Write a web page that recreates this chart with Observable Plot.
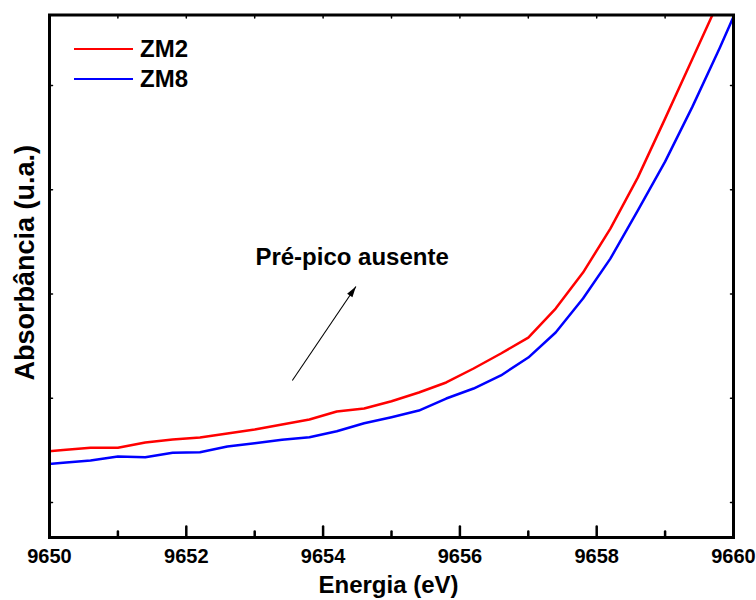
<!DOCTYPE html>
<html><head><meta charset="utf-8">
<script src="https://cdn.jsdelivr.net/npm/d3@7"></script>
<script src="https://cdn.jsdelivr.net/npm/@observablehq/plot@0.6"></script>
<style>
body{margin:0;background:#fff;font-family:"Liberation Sans",Arial,sans-serif;}
#wrap{position:relative;width:756px;height:600px;}
.legend{position:absolute;left:74px;top:34px;}
.item{display:flex;align-items:center;height:30px;font-weight:bold;font-size:24px;color:#000;}
.item .sw{width:59px;height:0;border-top:2.5px solid;margin-right:7px;}
</style></head><body><div id="wrap"></div>
<script>
// Energy (eV)
const energy = [9649.8, 9650.2, 9650.6, 9651.0, 9651.4, 9651.8, 9652.2, 9652.6, 9653.0, 9653.4,
  9653.8, 9654.2, 9654.6, 9655.0, 9655.4, 9655.8, 9656.2, 9656.6, 9657.0, 9657.4,
  9657.8, 9658.2, 9658.6, 9659.0, 9659.4, 9659.8, 9660.2];
// Absorbance (arbitrary units)
const zm2 = [1.479, 1.503, 1.524, 1.524, 1.575, 1.604, 1.623, 1.662, 1.700, 1.748,
  1.796, 1.872, 1.901, 1.971, 2.055, 2.151, 2.285, 2.429, 2.582, 2.860,
  3.205, 3.627, 4.116, 4.682, 5.257, 5.832, 6.410];
const zm8 = [1.360, 1.381, 1.403, 1.441, 1.434, 1.477, 1.482, 1.537, 1.569, 1.601,
  1.626, 1.683, 1.760, 1.818, 1.882, 1.997, 2.093, 2.218, 2.390, 2.630,
  2.956, 3.339, 3.800, 4.269, 4.797, 5.362, 5.957];
const seriesNames = ["ZM2", "ZM8"];
const seriesColors = ["#ff0000", "#0000ff"];
const xMajorTicks = [9650, 9652, 9654, 9656, 9658, 9660];
const xMinorTicks = [9651, 9653, 9655, 9657, 9659];
const xAllTicks = [9650, 9651, 9652, 9653, 9654, 9655, 9656, 9657, 9658, 9659, 9660];
const yTicks = [1, 2, 3, 4, 5];
const xDomain = [9650, 9660];
const yDomain = [0.664, 5.676];
const annotationText = ["Pré-pico ausente"];
const arrowFrom = {x: 9653.55, y: 2.17};
const arrowTo = {x: 9654.48, y: 3.072};
const textAt = {x: 9653.01, y: 3.356};

const rows = [];
[zm2, zm8].forEach((vals, s) => vals.forEach((v, i) => rows.push({series: seriesNames[s], e: energy[i], a: v})));

const dims = {width: 756, height: 600, marginLeft: 49, marginRight: 23, marginTop: 14.5, marginBottom: 63};
const probe = Plot.plot({...dims, x: {domain: xDomain}, y: {domain: yDomain}, marks: []});
const sx = probe.scale("x"), sy = probe.scale("y");
const dxp = sx.apply(arrowTo.x) - sx.apply(arrowFrom.x);
const dyp = sy.apply(arrowTo.y) - sy.apply(arrowFrom.y);
const headRot = Math.atan2(dxp, -dyp) * 180 / Math.PI;

const tickShape = {draw(ctx, l) { ctx.moveTo(0, 0); ctx.lineTo(0, -l); }};
const headShape = {draw(ctx, l) { ctx.moveTo(0, 0); ctx.lineTo(-3.2, l); ctx.lineTo(3.2, l); ctx.closePath(); }};
const bold = {fontWeight: "bold", fill: "black"};

const chart = Plot.plot({
  ...dims,
  style: {fontFamily: "'Liberation Sans', Arial, sans-serif", background: "white"},
  x: {domain: xDomain},
  y: {domain: yDomain, axis: null},
  color: {domain: seriesNames, range: seriesColors},
  marks: [
    Plot.line(rows, {x: "e", y: "a", z: "series", stroke: "series", strokeWidth: 2.5, clip: true}),
    Plot.frame({stroke: "black", strokeWidth: 3}),
    Plot.vector(xMajorTicks, {x: d => d, frameAnchor: "bottom", length: 11, anchor: "start", rotate: 0, shape: tickShape, stroke: "black", strokeWidth: 2.5}),
    Plot.vector(xMinorTicks, {x: d => d, frameAnchor: "bottom", length: 6, anchor: "start", rotate: 0, shape: tickShape, stroke: "black", strokeWidth: 2.5}),
    Plot.vector(xAllTicks, {x: d => d, frameAnchor: "top", length: 3, anchor: "start", rotate: 180, shape: tickShape, stroke: "black", strokeWidth: 1.5}),
    Plot.vector(yTicks, {y: d => d, frameAnchor: "left", length: 3, anchor: "start", rotate: 90, shape: tickShape, stroke: "black", strokeWidth: 1.5}),
    Plot.vector(yTicks, {y: d => d, frameAnchor: "right", length: 3, anchor: "start", rotate: -90, shape: tickShape, stroke: "black", strokeWidth: 1.5}),
    Plot.axisX(xMajorTicks, {tickSize: 0, tickPadding: 11, tickFormat: "d", fontSize: 20, ...bold, label: null}),
    Plot.text(["Energia (eV)"], {frameAnchor: "bottom", textAnchor: "middle", lineAnchor: "middle", dx: -3, dy: 48, fontSize: 24, ...bold}),
    Plot.text(["Absorbância (u.a.)"], {frameAnchor: "left", textAnchor: "middle", lineAnchor: "middle", dx: -24, dy: -13.5, rotate: -90, fontSize: 27, ...bold}),
    Plot.link([0], {x1: () => arrowFrom.x, y1: () => arrowFrom.y, x2: () => arrowTo.x, y2: () => arrowTo.y, stroke: "black", strokeWidth: 1.1}),
    Plot.vector([0], {x: () => arrowTo.x, y: () => arrowTo.y, length: 11, rotate: headRot, anchor: "start", shape: headShape, fill: "black", stroke: "none"}),
    Plot.text(annotationText, {x: () => textAt.x, y: () => textAt.y, textAnchor: "start", lineAnchor: "middle", fontSize: 24, ...bold})
  ]
});

const wrap = document.getElementById("wrap");
wrap.appendChild(chart);
const legend = document.createElement("div");
legend.className = "legend";
seriesNames.forEach((name, i) => {
  const item = document.createElement("div");
  item.className = "item";
  const sw = document.createElement("span");
  sw.className = "sw";
  sw.style.borderTopColor = seriesColors[i];
  item.appendChild(sw);
  item.appendChild(document.createTextNode(name));
  legend.appendChild(item);
});
wrap.appendChild(legend);
</script>
</body></html>
